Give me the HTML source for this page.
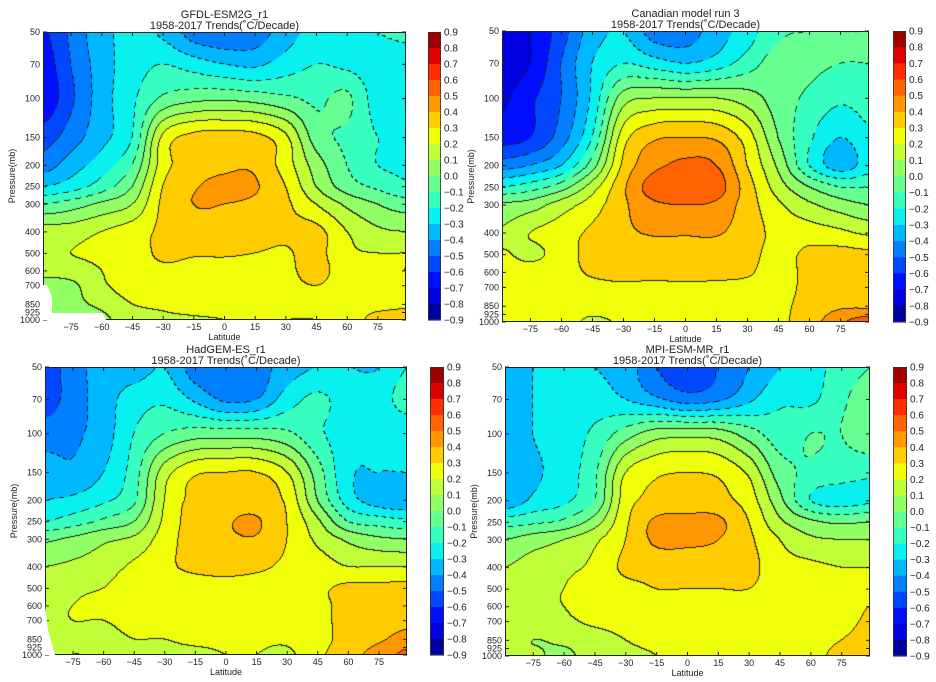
<!DOCTYPE html>
<html><head><meta charset="utf-8">
<style>
html,body{margin:0;padding:0;background:#fff;}
#wrap{position:relative;width:936px;height:682px;overflow:hidden;font-family:"Liberation Sans",sans-serif;}
canvas{position:absolute;}
svg{position:absolute;left:0;top:0;}
</style></head>
<body>
<div id="wrap">
<svg id="svg" width="936" height="682"></svg>
</div>
<script>
// ---- shared axis data ----
const lats = [-88.75,-75,-60,-45,-30,-15,0,15,30,45,60,75,88.75];
const pressures = [50,70,100,150,200,250,300,400,500,600,700,850,1000];
const xTicks = [-75,-60,-45,-30,-15,0,15,30,45,60,75];
const yTicks = [50,70,100,150,200,250,300,400,500,600,700,850,925,1000];
const cbLevels = [0.9,0.8,0.7,0.6,0.5,0.4,0.3,0.2,0.1,0.0,-0.1,-0.2,-0.3,-0.4,-0.5,-0.6,-0.7,-0.8,-0.9];

// ---- panel data (rows = pressures, cols = lats) ----
const gfdlValues = [
[-0.62,-0.48,-0.33,-0.28,-0.32,-0.45,-0.48,-0.45,-0.35,-0.25,-0.22,-0.2,-0.18],
[-0.66,-0.5,-0.35,-0.25,-0.2,-0.25,-0.3,-0.32,-0.25,-0.2,-0.22,-0.25,-0.25],
[-0.68,-0.52,-0.35,-0.22,-0.08,-0.03,-0.02,-0.04,-0.08,-0.12,-0.08,-0.25,-0.28],
[-0.55,-0.45,-0.33,-0.2,0.22,0.33,0.34,0.33,0.22,-0.05,-0.12,-0.2,-0.22],
[-0.45,-0.35,-0.25,-0.1,0.25,0.35,0.38,0.38,0.25,0.05,-0.1,-0.2,-0.22],
[-0.3,-0.25,-0.15,0.0,0.3,0.39,0.42,0.41,0.3,0.1,-0.05,-0.12,-0.18],
[-0.1,-0.05,0.02,0.1,0.32,0.4,0.4,0.38,0.32,0.2,0.08,0.0,-0.05],
[0.15,0.15,0.2,0.25,0.32,0.35,0.35,0.35,0.32,0.33,0.2,0.12,0.1],
[0.18,0.2,0.22,0.25,0.32,0.31,0.31,0.3,0.29,0.33,0.22,0.2,0.2],
[0.12,0.15,0.2,0.25,0.28,0.27,0.27,0.28,0.28,0.33,0.25,0.22,0.2],
[0.08,0.08,0.18,0.25,0.26,0.26,0.26,0.26,0.27,0.3,0.25,0.22,0.22],
[0.05,0.08,0.12,0.2,0.22,0.24,0.24,0.24,0.25,0.25,0.25,0.25,0.28],
[0.05,0.06,0.08,0.15,0.18,0.19,0.2,0.21,0.2,0.2,0.22,0.35,0.35]];
const canadianValues = [
[-0.75,-0.7,-0.55,-0.35,-0.3,-0.45,-0.45,-0.35,-0.25,-0.12,-0.1,-0.1,-0.1],
[-0.75,-0.7,-0.5,-0.3,-0.2,-0.25,-0.3,-0.25,-0.15,-0.05,-0.08,-0.1,-0.1],
[-0.72,-0.62,-0.5,-0.28,0.05,0.1,0.1,0.1,0.05,-0.05,-0.12,-0.18,-0.15],
[-0.65,-0.6,-0.45,-0.2,0.25,0.38,0.4,0.38,0.25,0.0,-0.18,-0.3,-0.22],
[-0.45,-0.4,-0.3,-0.05,0.32,0.47,0.52,0.5,0.3,0.08,-0.2,-0.35,-0.25],
[-0.2,-0.15,-0.05,0.15,0.38,0.55,0.56,0.55,0.35,0.15,0.0,-0.1,-0.1],
[0.02,0.05,0.15,0.25,0.38,0.48,0.5,0.48,0.35,0.22,0.12,0.05,0.0],
[0.12,0.2,0.25,0.32,0.38,0.41,0.41,0.41,0.35,0.27,0.25,0.22,0.18],
[0.22,0.17,0.25,0.33,0.35,0.36,0.36,0.36,0.33,0.27,0.32,0.33,0.32],
[0.25,0.25,0.27,0.31,0.32,0.33,0.34,0.33,0.31,0.27,0.32,0.33,0.33],
[0.25,0.25,0.26,0.28,0.29,0.28,0.28,0.28,0.28,0.27,0.32,0.33,0.33],
[0.25,0.25,0.25,0.25,0.26,0.26,0.26,0.26,0.26,0.28,0.33,0.38,0.38],
[0.25,0.3,0.25,0.18,0.22,0.25,0.25,0.25,0.25,0.28,0.35,0.48,0.55]];
const hadgemValues = [
[-0.55,-0.45,-0.35,-0.35,-0.3,-0.45,-0.45,-0.45,-0.35,-0.3,-0.3,-0.3,-0.2],
[-0.55,-0.45,-0.35,-0.25,-0.22,-0.32,-0.42,-0.4,-0.25,-0.18,-0.25,-0.25,-0.15],
[-0.45,-0.42,-0.35,-0.2,-0.1,-0.05,-0.05,-0.05,-0.08,-0.18,-0.25,-0.28,-0.28],
[-0.35,-0.38,-0.3,-0.15,0.15,0.28,0.3,0.3,0.2,-0.05,-0.28,-0.3,-0.3],
[-0.3,-0.28,-0.22,-0.12,0.2,0.33,0.35,0.35,0.28,0.0,-0.25,-0.35,-0.38],
[-0.2,-0.15,-0.08,0.0,0.22,0.35,0.39,0.41,0.3,0.12,-0.1,-0.15,-0.18],
[-0.02,0.02,0.08,0.12,0.25,0.35,0.38,0.39,0.3,0.18,0.08,0.02,0.0],
[0.1,0.12,0.15,0.22,0.28,0.32,0.33,0.32,0.28,0.25,0.2,0.2,0.2],
[0.15,0.18,0.2,0.25,0.25,0.26,0.27,0.26,0.25,0.28,0.32,0.32,0.33],
[0.18,0.2,0.22,0.22,0.25,0.25,0.25,0.25,0.25,0.28,0.32,0.33,0.34],
[0.18,0.2,0.2,0.22,0.23,0.25,0.25,0.25,0.25,0.28,0.32,0.33,0.36],
[0.18,0.18,0.18,0.2,0.2,0.22,0.22,0.22,0.22,0.27,0.33,0.38,0.45],
[0.15,0.2,0.18,0.18,0.18,0.18,0.2,0.2,0.18,0.28,0.35,0.45,0.52]];
const mpiValues = [
[-0.3,-0.3,-0.28,-0.3,-0.35,-0.5,-0.55,-0.5,-0.4,-0.3,-0.25,-0.15,-0.1],
[-0.35,-0.3,-0.25,-0.25,-0.3,-0.38,-0.45,-0.42,-0.32,-0.22,-0.22,-0.12,-0.05],
[-0.38,-0.3,-0.25,-0.18,-0.05,0.05,0.06,0.05,-0.05,-0.15,-0.1,-0.1,-0.02],
[-0.38,-0.32,-0.25,-0.12,0.2,0.28,0.3,0.28,0.18,-0.05,-0.12,-0.15,-0.18],
[-0.38,-0.28,-0.22,-0.1,0.25,0.32,0.34,0.33,0.25,0.03,-0.2,-0.25,-0.22],
[-0.15,-0.12,-0.08,0.05,0.28,0.42,0.43,0.42,0.3,0.12,0.02,-0.02,0.0],
[0.0,0.05,0.1,0.18,0.3,0.42,0.42,0.4,0.32,0.2,0.12,0.1,0.1],
[0.1,0.15,0.18,0.22,0.32,0.33,0.34,0.34,0.33,0.24,0.22,0.2,0.2],
[0.15,0.18,0.2,0.23,0.27,0.3,0.3,0.3,0.3,0.25,0.23,0.22,0.25],
[0.15,0.18,0.2,0.23,0.25,0.26,0.26,0.26,0.26,0.25,0.24,0.24,0.3],
[0.15,0.16,0.18,0.22,0.24,0.25,0.25,0.25,0.25,0.24,0.24,0.26,0.32],
[0.15,0.1,0.12,0.15,0.2,0.22,0.22,0.22,0.22,0.22,0.24,0.3,0.35],
[0.15,0.12,0.08,0.15,0.18,0.2,0.22,0.22,0.22,0.22,0.25,0.35,0.4]];

const panelTitles = ["GFDL-ESM2G_r1","Canadian model run 3","HadGEM-ES_r1","MPI-ESM-MR_r1"];
const panels = [
 {name:"gfdl", vals:gfdlValues, x:43, y:32, w:363, h:288, cbx:428, cbw:13},
 {name:"canadian", vals:canadianValues, x:502, y:31, w:367, h:291, cbx:893, cbw:13},
 {name:"hadgem", vals:hadgemValues, x:45, y:367, w:362, h:288, cbx:430, cbw:14},
 {name:"mpi", vals:mpiValues, x:505, y:367, w:365, h:289, cbx:893, cbw:14}
];

const NS="http://www.w3.org/2000/svg";
const svg=document.getElementById('svg');
const wrap=document.getElementById('wrap');

function jetChan(pts,t){for(let i=1;i<pts.length;i++){if(t<=pts[i][0]){const a=pts[i-1],b=pts[i];return a[1]+(b[1]-a[1])*(t-a[0])/(b[0]-a[0]);}}return pts[pts.length-1][1];}
const R=[[0,0],[0.35,0],[0.66,1],[0.89,1],[1,0.5]];
const G=[[0,0],[0.125,0],[0.375,1],[0.64,1],[0.91,0],[1,0]];
const B=[[0,0.5],[0.11,1],[0.34,1],[0.65,0],[1,0]];
function jet(t){return [Math.round(255*jetChan(R,t)),Math.round(255*jetChan(G,t)),Math.round(255*jetChan(B,t))];}
function levelColor(i){return jet((i+0.5)/18);}

const lp0=Math.log(50), lp1=Math.log(1000);
function yScale(p,P){return P.y+(Math.log(p)-lp0)/(lp1-lp0)*P.h;}
function xScale(lat,P){return P.x+(lat-lats[0])/(lats[lats.length-1]-lats[0])*P.w;}
function findIdx(arr,v){for(let i=0;i<arr.length-2;i++){if(v<arr[i+1])return i;}return arr.length-2;}
const logP=pressures.map(Math.log);
function cr(p0,p1,p2,p3,t){return 0.5*((2*p1)+(-p0+p2)*t+(2*p0-5*p1+4*p2-p3)*t*t+(-p0+3*p1-3*p2+p3)*t*t*t);}
function sample(vals,lat,lp){
  const i=findIdx(lats,lat), j=findIdx(logP,lp);
  let fx=(lat-lats[i])/(lats[i+1]-lats[i]); fx=Math.max(0,Math.min(1,fx));
  let fy=(lp-logP[j])/(logP[j+1]-logP[j]); fy=Math.max(0,Math.min(1,fy));
  const nx=lats.length, ny=logP.length;
  const row=r=>{r=Math.max(0,Math.min(ny-1,r));const c=k=>vals[r][Math.max(0,Math.min(nx-1,k))];return cr(c(i-1),c(i),c(i+1),c(i+2),fx);};
  return cr(row(j-1),row(j),row(j+1),row(j+2),fy);
}
function mk(tag,attrs,parent){const e=document.createElementNS(NS,tag);for(const k in attrs)e.setAttribute(k,attrs[k]);(parent||svg).appendChild(e);return e;}
function txt(x,y,s,size,anchor,parent,extra){const t=mk('text',Object.assign({x:x,y:y,'font-size':size,'text-anchor':anchor||'middle',fill:'#222','font-family':'Liberation Sans, sans-serif'},extra||{}),parent);t.textContent=s;return t;}

panels.forEach((P,pi)=>{
  const cv=document.createElement('canvas');
  cv.width=P.w; cv.height=P.h;
  cv.style.left=P.x+'px'; cv.style.top=P.y+'px';
  
  
  wrap.insertBefore(cv,svg);
  const ctx=cv.getContext('2d');
  const img=ctx.createImageData(P.w,P.h);
  const V=new Float32Array(P.w*P.h);
  for(let py=0;py<P.h;py++){
    const lp=lp0+(py+0.5)/P.h*(lp1-lp0);
    for(let px=0;px<P.w;px++){
      const lat=lats[0]+(px+0.5)/P.w*(lats[lats.length-1]-lats[0]);
      V[py*P.w+px]=sample(P.vals,lat,lp);
    }
  }
  const K=v=>Math.floor(v/0.1+1e-6);
  for(let py=0;py<P.h;py++)for(let px=0;px<P.w;px++){
    const v=V[py*P.w+px];
    let li=Math.floor((v+0.9)/0.1); li=Math.max(0,Math.min(17,li));
    let col=levelColor(li);
    const k=K(v);
    let line=false,bnd=0;
    if(px<P.w-1){const k2=K(V[py*P.w+px+1]); if(k2!==k){line=true;bnd=Math.max(k,k2);}}
    if(!line&&py<P.h-1){const k2=K(V[(py+1)*P.w+px]); if(k2!==k){line=true;bnd=Math.max(k,k2);}}
    if(line){
      const neg=bnd<0;
      if(!neg||((px+py)%9)<5) col=[30,30,30];
    }
    const o=(py*P.w+px)*4;
    img.data[o]=col[0];img.data[o+1]=col[1];img.data[o+2]=col[2];img.data[o+3]=255;
  }
  ctx.putImageData(img,0,0);

  const g=mk('g',{});
  
  
  const fr=mk('rect',{x:P.x+0.5,y:P.y+0.5,width:P.w-1,height:P.h-1,fill:'none',stroke:'#222','stroke-width':1},g);
  
  
  const cx=P.x+P.w/2;
  const t1=txt(cx,P.y-14,panelTitles[pi],11,'middle',g);
  
  
  const t2=txt(cx,P.y-3,"1958-2017 Trends(\u02DAC/Decade)",11,'middle',g);
  
  
  xTicks.forEach(v=>{
    const x=xScale(v,P);
    mk('line',{x1:x,x2:x,y1:P.y+P.h,y2:P.y+P.h-4,stroke:'#222'},g);
    mk('line',{x1:x,x2:x,y1:P.y,y2:P.y+4,stroke:'#222'},g);
    const t=txt(x,P.y+P.h+10,v===0?'0':(v<0?'\u2212'+(-v):String(v)),9,'middle',g);
    
    
  });
  const xl=txt(cx,P.y+P.h+20,'Latitude',9,'middle',g);
  
  
  yTicks.forEach(p=>{
    const y=yScale(p,P);
    mk('line',{x1:P.x,x2:P.x+4,y1:y,y2:y,stroke:'#222'},g);
    mk('line',{x1:P.x+P.w,x2:P.x+P.w-4,y1:y,y2:y,stroke:'#222'},g);
    const t=txt(P.x-3,y+3,String(p),9,'end',g);
    
    
  });
  const yl=txt(0,0,'Pressure(mb)',9,'middle',g,{transform:'translate('+(P.x-28)+','+(P.y+P.h/2)+') rotate(-90)'});
  
  
  const cb=mk('g',{},g);
  
  
  const step=P.h/18;
  for(let i=0;i<18;i++){
    const c=levelColor(17-i);
    const r=mk('rect',{x:P.cbx,y:P.y+i*step,width:P.cbw,height:step+0.5,fill:'rgb('+c.join(',')+')'},cb);
    
    
  }
  mk('rect',{x:P.cbx+0.5,y:P.y+0.5,width:P.cbw-1,height:P.h-1,fill:'none',stroke:'#333','stroke-width':0.8},cb);
  cbLevels.forEach((v,i)=>{
    const s=v<0?'\u2212'+(-v).toFixed(1):v.toFixed(1);
    const t=txt(P.cbx+P.cbw+3,P.y+i*step+3.5,s,10,'start',cb);
    
    
  });
});
const m1=mk('polygon',{points:'43,285 47,285 52,297 52,313 103,313 106,320 43,320',fill:'#fff'});


const m3=mk('polygon',{points:'45,605 48,630 55,655 45,655',fill:'#fff'});


</script>
</body></html>
